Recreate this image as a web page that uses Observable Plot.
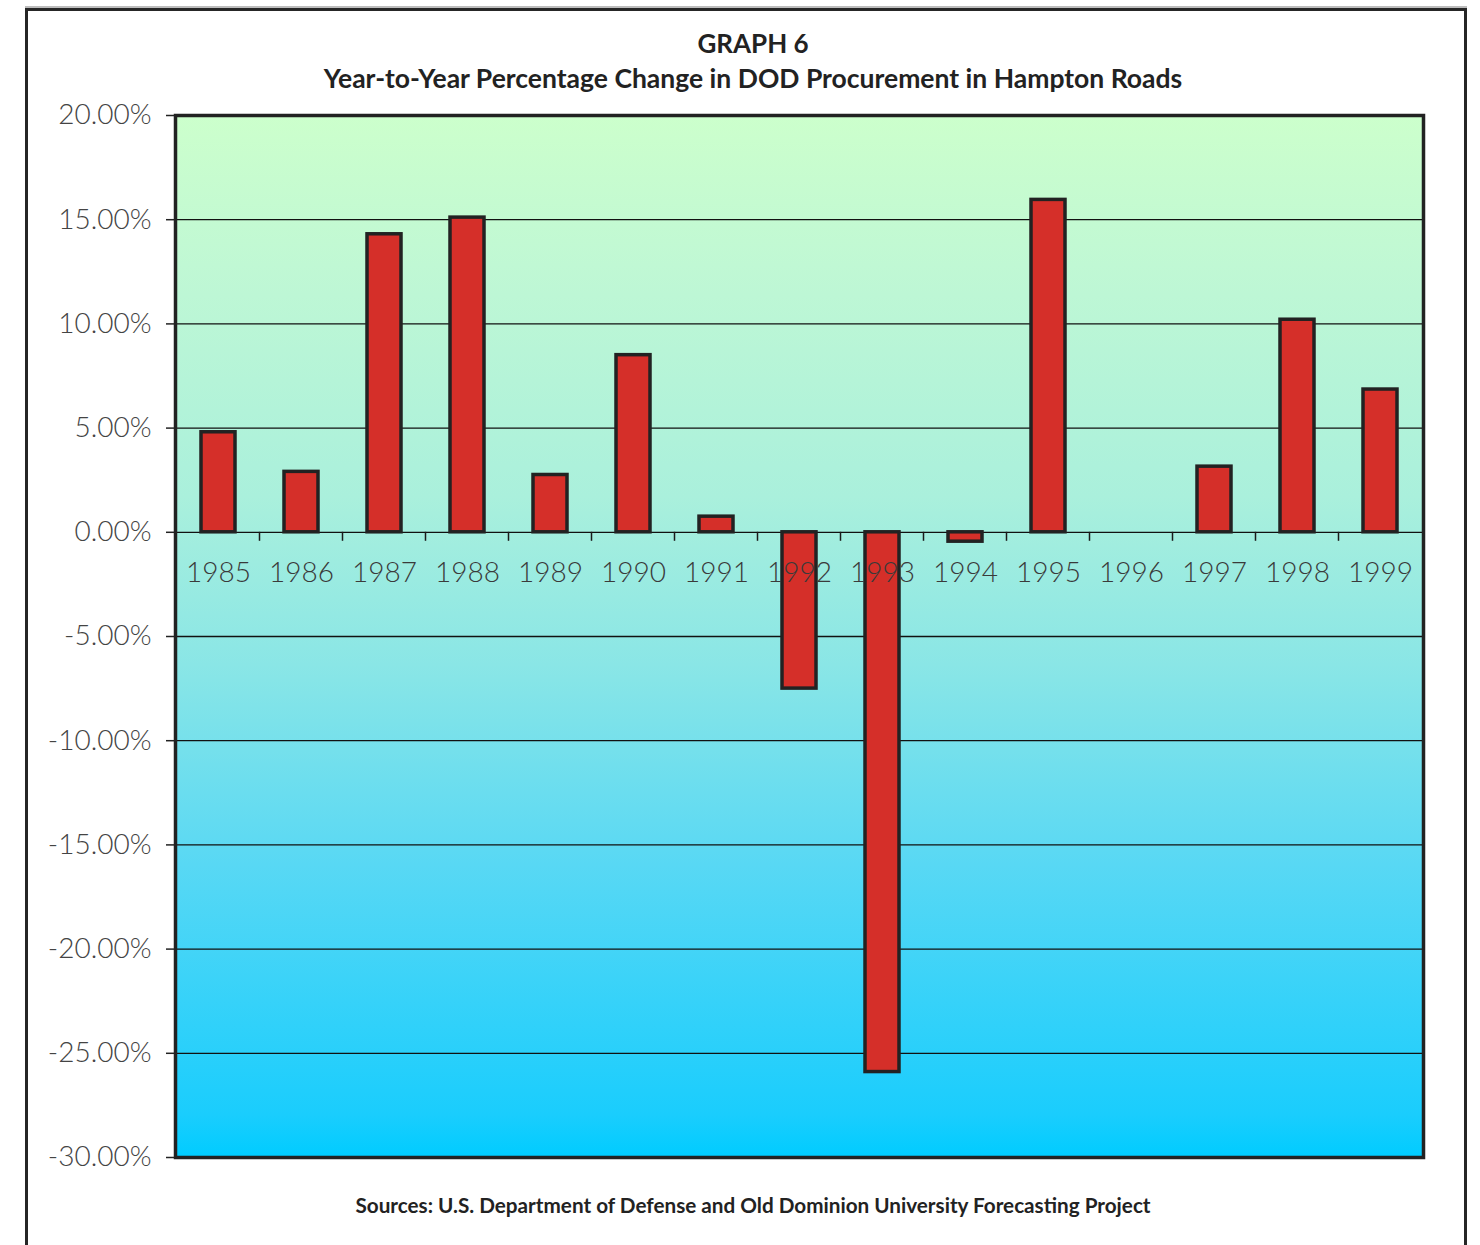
<!DOCTYPE html>
<html>
<head>
<meta charset="utf-8">
<script src="https://cdn.jsdelivr.net/npm/d3@7"></script>
<script src="https://cdn.jsdelivr.net/npm/@observablehq/plot@0.6"></script>
<style>
  html, body { margin: 0; padding: 0; background: #fff; }
  #page { position: relative; width: 1480px; height: 1245px; overflow: hidden; font-family: Lato, "Open Sans", sans-serif; }
  #frame { position: absolute; left: 25px; top: 8px; width: 1436px; height: 1260px; border: 3px solid #262626; box-shadow: 0 -2px 0 #bdbdbd; }
  .title { position: absolute; left: 0; width: 1506px; text-align: center; font-weight: 700; color: #222; }
  #t1 { top: 27px; font-size: 26px; }
  #t2 { top: 62px; font-size: 26.5px; }
  #cap { top: 1193px; font-size: 20.7px; color: #222; }
  #chart { position: absolute; left: 0; top: 0; }
</style>
</head>
<body>
<div id="page">
  <div id="frame"></div>
  <div id="chart"></div>
  <div class="title" id="t1">GRAPH 6</div>
  <div class="title" id="t2">Year-to-Year Percentage Change in DOD Procurement in Hampton Roads</div>
  <div class="title" id="cap">Sources: U.S. Department of Defense and Old Dominion University Forecasting Project</div>
</div>
<script>
// Data
const years = ["1985","1986","1987","1988","1989","1990","1991","1992","1993","1994","1995","1996","1997","1998","1999"];
const changes = [4.8, 2.9, 14.3, 15.1, 2.75, 8.5, 0.75, -7.5, -25.9, -0.45, 15.95, 0, 3.15, 10.2, 6.85];
const yTicks = [20, 15, 10, 5, 0, -5, -10, -15, -20, -25, -30];

const rows = years.map((y, i) => ({year: y, value: changes[i]}));

// category boundary ticks below the zero line
function boundaryTicks(index, scales, values, dimensions) {
  const g = d3.create("svg:g");
  const bw = scales.x.bandwidth ? scales.x.bandwidth() : 0;
  const step = scales.x.step ? scales.x.step() : 0;
  const y0 = scales.y(0);
  years.slice(1).forEach(yr => {
    const xb = scales.x(yr) + bw / 2 - step / 2;
    g.append("line").attr("x1", xb).attr("x2", xb).attr("y1", y0).attr("y2", y0 + 9)
      .attr("stroke", "#1a1a1a").attr("stroke-width", 1.5);
  });
  return g.node();
}

const chart = Plot.plot({
  width: 1480,
  height: 1200,
  marginTop: 115,
  marginBottom: 43,
  marginLeft: 175,
  marginRight: 57,
  style: {fontFamily: "Lato, 'Open Sans', sans-serif", background: "transparent"},
  x: {domain: years, paddingInner: 0.59, paddingOuter: 0.295, axis: null},
  y: {domain: [-30, 20], ticks: yTicks, axis: null, label: null},
  marks: [
    Plot.frame({fill: "url(#bgGrad)", stroke: null}),
    Plot.ruleY(yTicks, {stroke: "#111", strokeWidth: 1.3}),
    Plot.axisY(yTicks, {
      label: null,
      tickSize: 9, tickPadding: 15, stroke: "#222", strokeWidth: 1.5,
      tickFormat: d => d.toFixed(2) + "%", fontSize: 28, fill: "#444", fontWeight: 300
    }),
    Plot.barY(rows, {x: "year", y: "value", fill: "#d52f29", stroke: "#222", strokeWidth: 3.5}),
    boundaryTicks,
    Plot.text(years, {x: d => d, y: d => 0, dy: 41, text: d => d, fontSize: 28, fill: "#3a3a3a", fontWeight: 300}),
    Plot.frame({stroke: "#222", strokeWidth: 3.5})
  ]
});

const svg = d3.select(chart);
const grad = svg.insert("defs", ":first-child").append("linearGradient")
  .attr("id", "bgGrad").attr("x1", 0).attr("y1", 0).attr("x2", 0).attr("y2", 1);
[[0, "#ccffcc"], [0.144, "#c0f8d4"], [0.365, "#aaf0dc"], [0.527, "#8ae6e6"], [0.719, "#58d8f4"], [0.959, "#1acdfd"], [1, "#00ccff"]]
  .forEach(([o, c]) => grad.append("stop").attr("offset", o).attr("stop-color", c));

document.getElementById("chart").appendChild(chart);
</script>
</body>
</html>
